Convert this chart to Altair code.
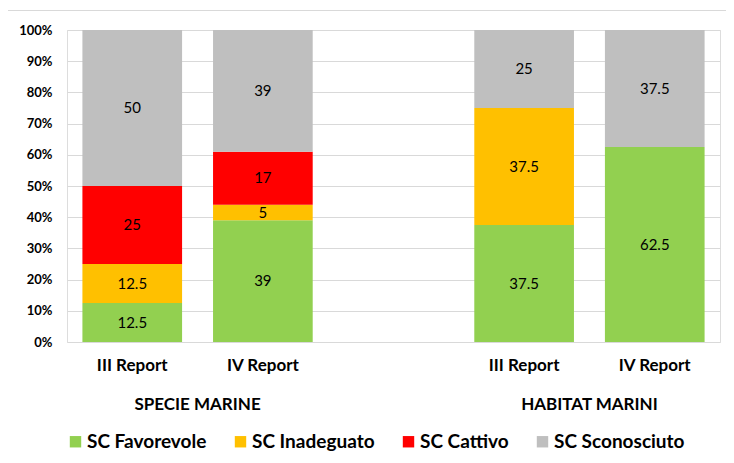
import altair as alt
import pandas as pd

# ---- data ----
slots = ["S3", "S4", "GAP", "H3", "H4"]
slot_labels = {"S3": "III Report", "S4": "IV Report", "GAP": "", "H3": "III Report", "H4": "IV Report"}
bars = ["S3", "S4", "H3", "H4"]
series = ["SC Favorevole", "SC Inadeguato", "SC Cattivo", "SC Sconosciuto"]
colors = ["#92D050", "#FFC000", "#FF0000", "#BFBFBF"]
favorevole = [12.5, 39, 37.5, 62.5]
inadeguato = [12.5, 5, 37.5, 0]
cattivo = [25, 17, 0, 0]
sconosciuto = [50, 39, 25, 37.5]
y_ticks = [0, 10, 20, 30, 40, 50, 60, 70, 80, 90, 100]
groups = ["SPECIE MARINE", "HABITAT MARINI"]
group_anchor = ["S4", "H4"]

values = [favorevole, inadeguato, cattivo, sconosciuto]
rows = []
for si, s in enumerate(series):
    for bi, b in enumerate(bars):
        rows.append({"key": b, "series": s, "order": si, "value": values[si][bi],
                     "label": f"{values[si][bi]:g}"})
df = pd.DataFrame(rows)
gdf = pd.DataFrame({"group": groups, "key": group_anchor})

FONT = "Lato"
W, H = 653, 312

label_expr = "{" + ",".join(f"'{k}':'{v}'" for k, v in slot_labels.items()) + "}[datum.value]"

xscale = alt.Scale(domain=slots, paddingInner=0.237, paddingOuter=0.118)
xaxis = alt.Axis(title=None, labelExpr=label_expr, labelAngle=0, ticks=False, domain=False,
                 labelFont=FONT, labelFontSize=17, labelFontWeight="bold",
                 labelColor="#000000", labelPadding=15, grid=False)
yscale = alt.Scale(domain=[0, 100])
yaxis = alt.Axis(title=None, values=y_ticks, labelExpr="datum.value + '%'",
                 ticks=False, domain=False, gridColor="#D9D9D9", gridWidth=1,
                 labelOverlap=False, tickCount=11,
                 labelFont=FONT, labelFontSize=13, labelFontWeight="bold",
                 labelColor="#000000", labelPadding=15)

base = alt.Chart(df).transform_stack(
    stack="value", as_=["y0", "y1"], groupby=["key"], sort=[alt.SortField("order")]
).transform_calculate(mid="(datum.y0 + datum.y1) / 2")

barsl = base.mark_bar().encode(
    x=alt.X("key:N", scale=xscale, axis=xaxis),
    y=alt.Y("y0:Q", scale=yscale, axis=yaxis),
    y2="y1:Q",
    color=alt.Color("series:N", scale=alt.Scale(domain=series, range=colors),
                    legend=alt.Legend(title=None, orient="none", direction="horizontal",
                                      legendX=-1, legendY=402, symbolType="square", symbolSize=130,
                                      symbolStrokeWidth=0, labelFont=FONT, labelFontSize=19,
                                      labelFontWeight="bold", labelColor="#000000",
                                      columnPadding=24, symbolOffset=0, labelOffset=2)),
    order=alt.Order("order:Q"),
)

texts = base.transform_filter("datum.value > 0").mark_text(
    font=FONT, fontSize=15, color="#000000", baseline="middle"
).encode(x=alt.X("key:N", scale=xscale, axis=xaxis),
         y=alt.Y("mid:Q", scale=yscale, axis=yaxis), text="label:N")

glabels = alt.Chart(gdf).mark_text(
    font=FONT, fontSize=17, fontWeight="bold", color="#000000", baseline="middle", dx=-15.5
).encode(x=alt.X("key:N", bandPosition=0, scale=xscale, axis=xaxis),
         y=alt.value(H + 63), text="group:N")

frame = alt.Chart(pd.DataFrame({"f": [0]})).mark_rect(
    fill=None, stroke="#D9D9D9", strokeWidth=1
).encode(x=alt.value(-61.5), x2=alt.value(W + 30), y=alt.value(-19.5), y2=alt.value(H + 140))

chart = alt.layer(frame, barsl, texts, glabels).properties(
    width=W, height=H,
    autosize=alt.AutoSizeParams(type="none"),
    padding={"left": 59, "top": 22, "right": 6, "bottom": 113},
).configure_view(stroke=None).configure(background="white")

chart.save("out.html", embed_options={"renderer": "svg", "actions": False})
